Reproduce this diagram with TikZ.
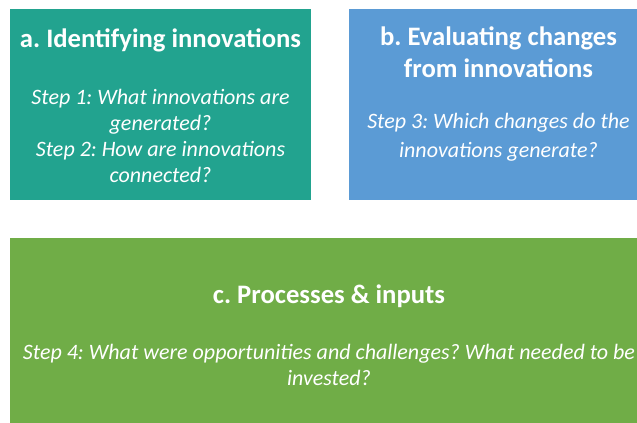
\documentclass[tikz,border=0pt]{standalone}
\usepackage{fontspec}
\setmainfont{Carlito}
\frenchspacing
\definecolor{tealbox}{HTML}{22A38F}
\definecolor{bluebox}{HTML}{5B9BD5}
\definecolor{greenbox}{HTML}{70AD47}
\begin{document}
\begin{tikzpicture}[x=0.75pt, y=-0.75pt]
        \tikzstyle{panel}=[rectangle, inner sep=0pt, minimum height=143.25pt];
        \tikzstyle{heading}=[text=white, font=\fontsize{20}{24}\selectfont\bfseries, align=center];
        \tikzstyle{question}=[text=white, font=\fontsize{16.5}{19.5}\selectfont\itshape, align=center];

        \useasboundingbox (0,0) rectangle (637,423);

        \node[panel, fill=tealbox, minimum width=225.75pt] (identify) at (160.5,104.5) {};
        \node[panel, fill=bluebox, minimum width=224.25pt] (evaluate) at (498.5,104.5) {};
        \node[panel, fill=greenbox, minimum width=478.5pt, minimum height=144pt] (process) at (329,334) {};

        \node[heading] (identifyhead) at (160.5,40) {a. Identifying innovations};
        \node[question] (identifysteps) at (160.5,136) {Step 1: What innovations are\\generated?\\Step 2: How are innovations\\connected?};

        \node[heading] (evaluatehead) at (498.5,52) {b. Evaluating changes\\from innovations};
        \node[question, font=\fontsize{16.5}{21.75}\selectfont\itshape] (evaluatesteps) at (498.5,137.5) {Step 3: Which changes do the\\innovations generate?};

        \node[heading] (processhead) at (329,296) {c. Processes \& inputs};
        \node[question] (processsteps) at (329,365) {Step 4: What were opportunities and challenges? What needed to be\\invested?};
    \end{tikzpicture}
\end{document}
